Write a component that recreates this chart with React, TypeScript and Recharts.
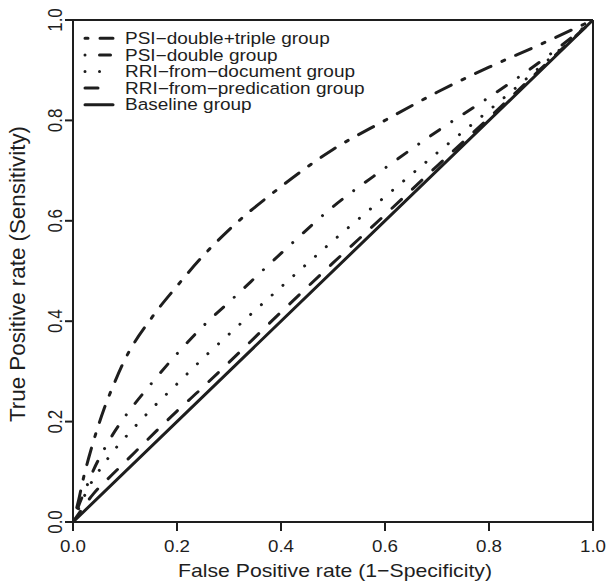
import React from "react";
import { LineChart, Line, XAxis, YAxis, ReferenceLine } from "recharts";

const FONT = '"Liberation Sans", Arial, Helvetica, sans-serif';
const INK = "#1e1e1e";
const W = 609;
const H = 585;

const xTicks = [0, 0.2, 0.4, 0.6, 0.8, 1.0];
const yTicks = [0, 0.2, 0.4, 0.6, 0.8, 1.0];

const seriesNames = [
  "PSI\u2212double+triple group",
  "PSI\u2212double group",
  "RRI\u2212from\u2212document group",
  "RRI\u2212from\u2212predication group",
  "Baseline group",
];

const psiDTFpr = [0, 0.01, 0.02, 0.03, 0.04, 0.06, 0.08, 0.1, 0.15, 0.2, 0.25, 0.3, 0.4, 0.5, 0.6, 0.7, 0.8, 0.9, 1.0];
const psiDTTpr = [0, 0.04, 0.087, 0.127, 0.163, 0.226, 0.278, 0.324, 0.405, 0.47, 0.53, 0.582, 0.668, 0.742, 0.8, 0.856, 0.906, 0.952, 1.0];

const psiDFpr = [0, 0.01, 0.026, 0.04, 0.06, 0.08, 0.1, 0.15, 0.2, 0.25, 0.3, 0.4, 0.5, 0.6, 0.7, 0.8, 0.9, 1.0];
const psiDTpr = [0, 0.03, 0.07, 0.105, 0.145, 0.18, 0.21, 0.275, 0.335, 0.39, 0.438, 0.535, 0.628, 0.705, 0.778, 0.846, 0.918, 1.0];

const rriDocFpr = [0, 0.022, 0.035, 0.05, 0.066, 0.083, 0.1, 0.15, 0.2, 0.25, 0.3, 0.4, 0.5, 0.6, 0.7, 0.8, 0.9, 1.0];
const rriDocTpr = [0, 0.052, 0.078, 0.102, 0.125, 0.148, 0.168, 0.224, 0.275, 0.326, 0.374, 0.468, 0.56, 0.648, 0.735, 0.82, 0.908, 1.0];

const rriPredFpr = [0, 0.04, 0.08, 0.12, 0.16, 0.2, 0.24, 0.3, 0.4, 0.5, 0.6, 0.7, 0.8, 0.9, 1.0];
const rriPredTpr = [0, 0.057, 0.099, 0.14, 0.181, 0.221, 0.259, 0.318, 0.418, 0.516, 0.612, 0.709, 0.805, 0.903, 1.0];

const baseFpr = [0, 1.0];
const baseTpr = [0, 1.0];

const toPts = (xs: number[], ys: number[]) => xs.map((x, i) => ({ x, y: ys[i] }));

const dashes: (string | undefined)[] = ["3 12 17 12", "0.01 14.5 11 14.5", "0.01 14.5", "13 15", undefined];

const series = [
  { name: seriesNames[0], data: toPts(psiDTFpr, psiDTTpr), dash: dashes[0] },
  { name: seriesNames[1], data: toPts(psiDFpr, psiDTpr), dash: dashes[1] },
  { name: seriesNames[2], data: toPts(rriDocFpr, rriDocTpr), dash: dashes[2] },
  { name: seriesNames[3], data: toPts(rriPredFpr, rriPredTpr), dash: dashes[3] },
  { name: seriesNames[4], data: toPts(baseFpr, baseTpr), dash: dashes[4] },
];

const X_TICK_BASE = 551.5;
const Y_TICK_BASE = 61.7;

const XTick = (props: any) => {
  const { x, payload } = props;
  return (
    <text
      transform={`translate(${x},${X_TICK_BASE}) scale(1.15,1)`}
      textAnchor="middle"
      fontSize={16.3}
      fontFamily={FONT}
      fill={INK}
    >
      {Number(payload.value).toFixed(1)}
    </text>
  );
};

const YTick = (props: any) => {
  const { y, payload } = props;
  return (
    <text
      transform={`translate(${Y_TICK_BASE},${y}) scale(1.2,1) rotate(-90)`}
      textAnchor="middle"
      fontSize={17}
      fontFamily={FONT}
      fill={INK}
    >
      {Number(payload.value).toFixed(1)}
    </text>
  );
};

const XTitle = (props: any) => {
  const vb = props.viewBox || { x: 73, width: 520 };
  return (
    <text
      transform={`translate(${vb.x + vb.width / 2 + 2},577) scale(1.14,1)`}
      textAnchor="middle"
      fontSize={18.6}
      fontFamily={FONT}
      fill={INK}
    >
      False Positive rate (1{"\u2212"}Specificity)
    </text>
  );
};

const YTitle = (props: any) => {
  const vb = props.viewBox || { y: 20, height: 502 };
  return (
    <text
      transform={`translate(25,${vb.y + vb.height / 2 + 3}) rotate(-90) scale(1.04,1)`}
      textAnchor="middle"
      fontSize={21.5}
      fontFamily={FONT}
      fill={INK}
    >
      True Positive rate (Sensitivity)
    </text>
  );
};

const legendRowY = [44, 60.6, 77.2, 93.8, 110.4];

export default function App() {
  return (
    <>
      <style>{"html,body{margin:0;padding:0;overflow:hidden;background:#fff}"}</style>
      <div style={{ position: "relative", width: W, height: H }}>
        <LineChart
          width={W}
          height={H}
          margin={{ top: 20, right: 16, bottom: 0, left: 0 }}
        >
          <XAxis
            type="number"
            dataKey="x"
            domain={[0, 1]}
            ticks={xTicks}
            interval={0}
            height={63}
            tickSize={9}
            tickMargin={0}
            allowDataOverflow
            axisLine={{ stroke: INK, strokeWidth: 2 }}
            tickLine={{ stroke: INK, strokeWidth: 2 }}
            tick={<XTick />}
            label={<XTitle />}
          />
          <YAxis
            type="number"
            dataKey="y"
            domain={[0, 1]}
            ticks={yTicks}
            interval={0}
            width={73}
            tickSize={8}
            tickMargin={0}
            allowDataOverflow
            axisLine={{ stroke: INK, strokeWidth: 2 }}
            tickLine={{ stroke: INK, strokeWidth: 2 }}
            tick={<YTick />}
            label={<YTitle />}
          />
          <ReferenceLine y={1} stroke={INK} strokeWidth={2} />
          <ReferenceLine x={1} stroke={INK} strokeWidth={2} />
          {series.map((s) => (
            <Line
              key={s.name}
              data={s.data}
              dataKey="y"
              name={s.name}
              type="monotone"
              stroke={INK}
              strokeWidth={3}
              strokeDasharray={s.dash}
              strokeLinecap="round"
              dot={false}
              activeDot={false}
              isAnimationActive={false}
            />
          ))}
        </LineChart>
        <svg
          width={W}
          height={H}
          style={{ position: "absolute", left: 0, top: 0, pointerEvents: "none" }}
        >
          {series.map((s, i) => (
            <g key={s.name}>
              <line
                x1={85}
                x2={113}
                y1={legendRowY[i] - 5.7}
                y2={legendRowY[i] - 5.7}
                stroke={INK}
                strokeWidth={3}
                strokeDasharray={s.dash}
                strokeLinecap="round"
              />
              <text
                transform={`translate(125,${legendRowY[i]}) scale(1.165,1)`}
                fontSize={16.3}
                fontFamily={FONT}
                fill={INK}
              >
                {s.name}
              </text>
            </g>
          ))}
        </svg>
      </div>
    </>
  );
}
